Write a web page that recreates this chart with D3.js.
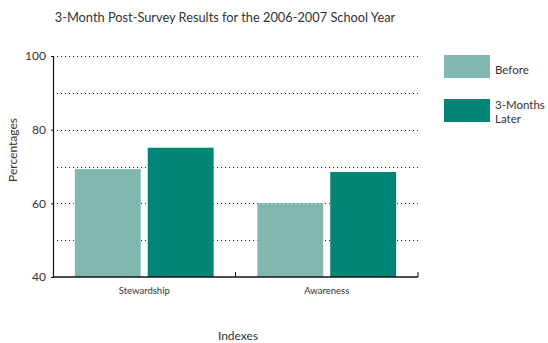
<!DOCTYPE html>
<html>
<head>
<meta charset="utf-8">
<script src="https://cdn.jsdelivr.net/npm/d3@7"></script>
<style>
  html, body { margin: 0; padding: 0; background: #fff; }
  svg { display: block; }
  text { font-family: "Lato", "Open Sans", sans-serif; fill: #333; }
</style>
</head>
<body>
<svg id="chart" width="548" height="343"></svg>
<script>
// Survey results, percentages per index
const categories = ["Stewardship", "Awareness"];
const seriesNames = ["Before", "3-Months Later"];
const beforeValues = [69.3, 60.0];
const laterValues = [75.1, 68.5];
const yTicks = [40, 60, 80, 100];
const yGrid = [50, 60, 70, 80, 90, 100];

const colors = { "Before": "#80b8b0", "3-Months Later": "#008576" };

const svg = d3.select("#chart");
const margin = { left: 53, right: 130, top: 56, bottom: 66 };
const width = 548, height = 343;

const x0 = d3.scaleBand()
  .domain(categories)
  .range([margin.left, width - margin.right])
  .paddingInner(0)
  .paddingOuter(0);

const x1 = d3.scaleBand()
  .domain(seriesNames)
  .range([0, x0.bandwidth()])
  .paddingInner(0.096)
  .paddingOuter(0.3);

const y = d3.scaleLinear()
  .domain([40, 100])
  .range([height - margin.bottom, margin.top]);

// Title
svg.append("text")
  .attr("x", 225)
  .attr("y", 22)
  .attr("text-anchor", "middle")
  .style("font-size", "12.8px")
  .text("3-Month Post-Survey Results for the 2006-2007 School Year");

// Dotted gridlines
svg.append("g")
  .selectAll("line")
  .data(yGrid)
  .join("line")
  .attr("x1", margin.left)
  .attr("x2", width - margin.right)
  .attr("y1", d => Math.round(y(d)) + 0.5)
  .attr("y2", d => Math.round(y(d)) + 0.5)
  .attr("stroke", "#222")
  .attr("stroke-width", 1)
  .attr("stroke-dasharray", "1,3");

// Bars
const rows = categories.map((c, i) => ({
  category: c,
  values: [
    { series: "Before", value: beforeValues[i] },
    { series: "3-Months Later", value: laterValues[i] }
  ]
}));

svg.append("g")
  .selectAll("g")
  .data(rows)
  .join("g")
  .attr("transform", d => `translate(${x0(d.category)},0)`)
  .selectAll("rect")
  .data(d => d.values)
  .join("rect")
  .attr("x", d => x1(d.series))
  .attr("width", x1.bandwidth())
  .attr("y", d => y(d.value))
  .attr("height", d => y(40) - y(d.value))
  .attr("fill", d => colors[d.series]);

// Y axis
const yAxis = svg.append("g")
  .attr("transform", `translate(${margin.left},0)`)
  .call(d3.axisLeft(y).tickValues(yTicks).tickSize(2).tickPadding(5).tickFormat(d3.format("d")));
yAxis.select(".domain").attr("stroke", "#111").attr("stroke-width", 1.2);
yAxis.selectAll(".tick line").attr("stroke", "#111");
yAxis.selectAll(".tick text")
  .style("font-size", "12px")
  .style("font-family", "Lato, sans-serif")
  .attr("fill", "#333");

// X axis with tick marks at category boundaries
const xAxisG = svg.append("g")
  .attr("transform", `translate(0,${y(40)})`);
xAxisG.append("line")
  .attr("x1", margin.left)
  .attr("x2", width - margin.right)
  .attr("stroke", "#111")
  .attr("stroke-width", 1.5);
const boundaries = categories.map(c => x0(c) + x0.bandwidth());
xAxisG.selectAll("line.sep")
  .data(boundaries)
  .join("line")
  .attr("class", "sep")
  .attr("x1", d => d)
  .attr("x2", d => d)
  .attr("y1", 0)
  .attr("y2", -5)
  .attr("stroke", "#111")
  .attr("stroke-width", 1);

xAxisG.selectAll("text.cat")
  .data(categories)
  .join("text")
  .attr("class", "cat")
  .attr("x", d => x0(d) + x0.bandwidth() / 2)
  .attr("y", 17)
  .attr("text-anchor", "middle")
  .style("font-size", "9.5px")
  .text(d => d);

// Axis titles
svg.append("text")
  .attr("transform", "translate(17,150) rotate(-90)")
  .attr("text-anchor", "middle")
  .style("font-size", "12px")
  .text("Percentages");

svg.append("text")
  .attr("x", 238)
  .attr("y", 340)
  .attr("text-anchor", "middle")
  .style("font-size", "12px")
  .text("Indexes");

// Legend
const legend = svg.append("g").attr("transform", "translate(444,55)");
const legendRows = [
  { name: "Before", lines: ["Before"], dy: 0 },
  { name: "3-Months Later", lines: ["3-Months", "Later"], dy: 44 }
];
const lg = legend.selectAll("g")
  .data(legendRows)
  .join("g")
  .attr("transform", d => `translate(0,${d.dy})`);
lg.append("rect")
  .attr("width", 46)
  .attr("height", 23)
  .attr("fill", d => colors[d.name]);
lg.each(function(d) {
  const g = d3.select(this);
  const startY = d.lines.length === 1 ? 19 : 10;
  d.lines.forEach((t, i) => {
    g.append("text")
      .attr("x", 51)
      .attr("y", startY + i * 13.5)
      .style("font-size", "11.5px")
      .text(t);
  });
});
</script>
</body>
</html>
